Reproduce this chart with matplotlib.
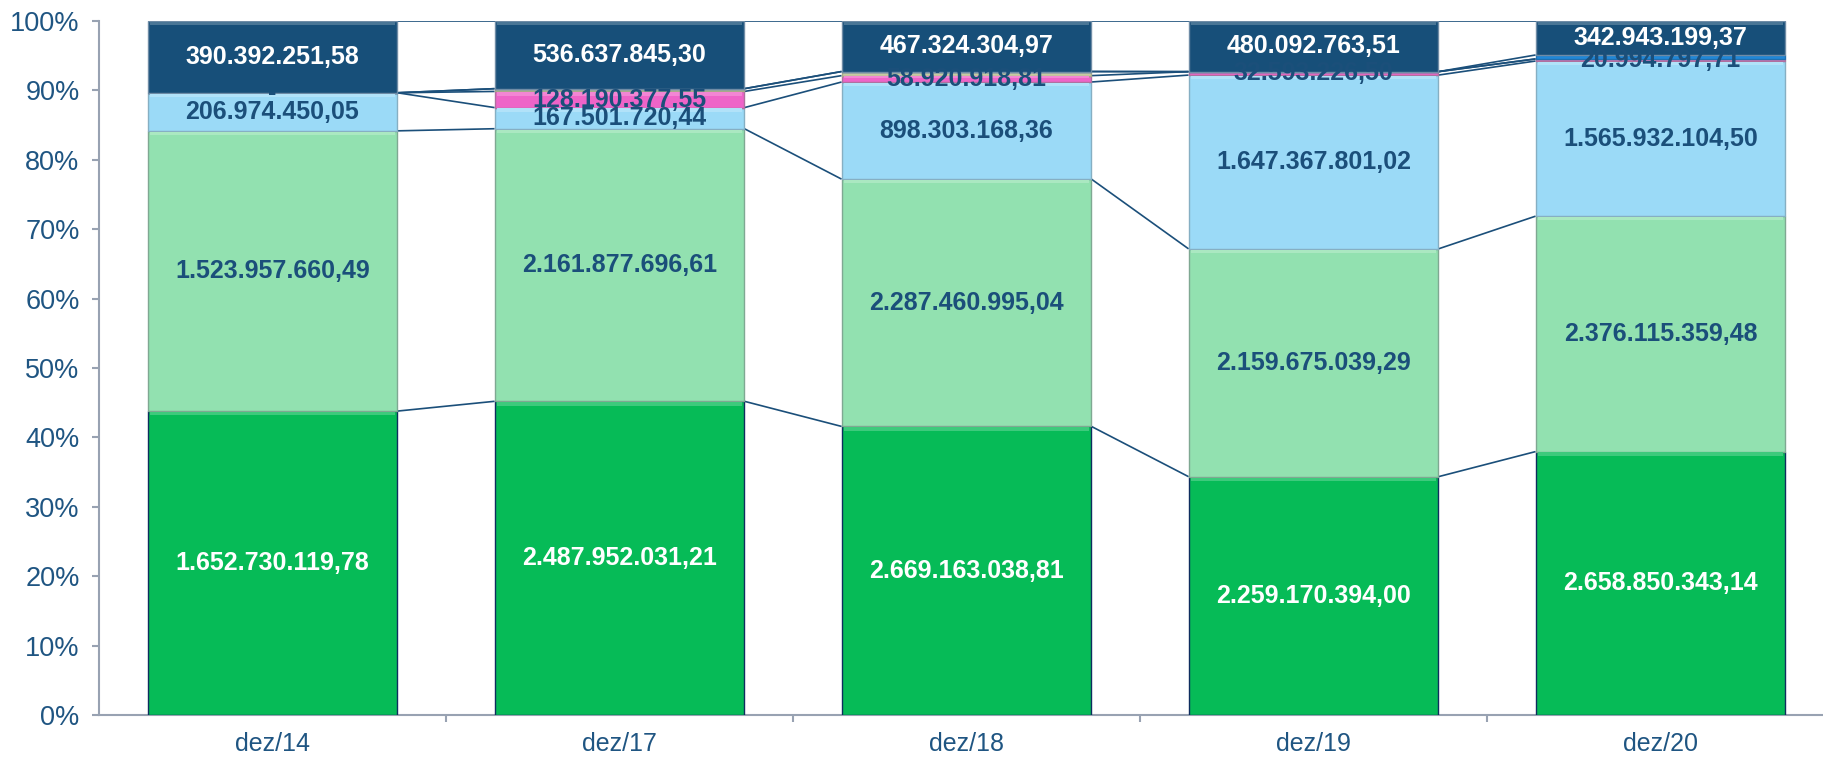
import matplotlib.pyplot as plt
import numpy as np
from matplotlib.colors import to_rgb

plt.rcParams['font.family'] = ['Liberation Sans', 'DejaVu Sans']

categories = ['dez/14', 'dez/17', 'dez/18', 'dez/19', 'dez/20']
serie_verde = [1652730119.78, 2487952031.21, 2669163038.81, 2259170394.00, 2658850343.14]
serie_verde_claro = [1523957660.49, 2161877696.61, 2287460995.04, 2159675039.29, 2376115359.48]
serie_azul_claro = [206974450.05, 167501720.44, 898303168.36, 1647367801.02, 1565932104.50]
serie_rosa = [0.0, 128190377.55, 58920918.81, 32593226.50, 20994797.71]
serie_caqui = [0.0, 22000000.0, 38000000.0, 0.0, 0.0]          # unlabeled thin band (estimated)
serie_azul_medio = [0.0, 0.0, 0.0, 0.0, 40000000.0]            # unlabeled thin band (estimated)
serie_marinho = [390392251.58, 536637845.30, 467324304.97, 480092763.51, 342943199.37]

series = [
    (serie_verde, '#06BB57', '#0E2D5E', 'white', True),
    (serie_verde_claro, '#92E1B0', '#7FA892', '#1B4F7A', True),
    (serie_azul_claro, '#9BDAF7', '#86AFC3', '#1B4F7A', True),
    (serie_rosa, '#EE64C8', '#B0709F', '#1B4F7A', True),
    (serie_caqui, '#C8C9A2', '#A8A98A', '#1B4F7A', False),
    (serie_azul_medio, '#2088D8', '#2070B0', '#1B4F7A', False),
    (serie_marinho, '#174F79', '#6F8CA6', 'white', True),
]


def fmt_br(v):
    if v == 0:
        return '-'
    s = f"{v:,.2f}"
    return s.replace(',', 'X').replace('.', ',').replace('X', '.')


def lighten(c, f):
    r, g, b = to_rgb(c)
    return (r + (1 - r) * f, g + (1 - g) * f, b + (1 - b) * f)


W, H = 1823, 758
fig = plt.figure(figsize=(W / 100, H / 100), dpi=100)
left_px, right_px = 99, W
bottom_px, top_px = 715, 21
ax = fig.add_axes([left_px / W, (H - bottom_px) / H, (right_px - left_px) / W, (bottom_px - top_px) / H])

cat_w = 347.0
px_per_pct = (bottom_px - top_px) / 100.0
n = len(categories)
x = np.arange(n)
bar_w = 0.72

totals = np.zeros(n)
for s in series:
    totals += np.array(s[0])

bottom = np.zeros(n)
tops = []
for vals, fc, ec, tc, show in series:
    pct = np.array(vals) / totals * 100
    ax.bar(x, pct, bar_w, bottom=bottom, color=fc, edgecolor=ec, linewidth=1.0, zorder=3)
    # subtle bevel highlight along the top of each segment
    for i in range(n):
        seg_px = pct[i] * px_per_pct
        if seg_px > 6:
            hh = min(3.5, seg_px * 0.2) / px_per_pct
            ax.bar(x[i], hh, bar_w * 0.98, bottom=bottom[i] + pct[i] - hh - 0.12,
                   color=lighten(fc, 0.22), linewidth=0, zorder=3.5)
    if show:
        for i in range(n):
            ax.text(x[i], bottom[i] + pct[i] / 2, fmt_br(vals[i]), ha='center', va='center',
                    fontsize=18, fontweight='bold', color=tc, zorder=5)
    bottom = bottom + pct
    tops.append(bottom.copy())

# series lines connecting stacked boundaries
for cum in tops:
    for i in range(n - 1):
        ax.plot([x[i] + bar_w / 2, x[i + 1] - bar_w / 2], [cum[i], cum[i + 1]],
                color='#1B4F7A', linewidth=1.2, zorder=2, solid_capstyle='butt')

ax.set_xlim(-0.5, -0.5 + (right_px - left_px) / cat_w)
ax.set_ylim(0, 100)

ax.set_yticks(np.arange(0, 101, 10))
ax.set_yticklabels([f"{v}%" for v in range(0, 101, 10)])
ax.set_xticks(x)
ax.set_xticklabels(categories)
ax.set_xticks(np.arange(n - 1) + 0.5, minor=True)

axis_col = '#98A2B2'
label_col = '#1F5582'
for sp in ['top', 'right']:
    ax.spines[sp].set_visible(False)
ax.spines['left'].set_color(axis_col)
ax.spines['bottom'].set_color(axis_col)
ax.spines['left'].set_linewidth(1.5)
ax.spines['bottom'].set_linewidth(1.5)
ax.spines['left'].set_zorder(1)

ax.tick_params(axis='y', direction='out', length=5, width=1.5, color=axis_col,
               labelcolor=label_col, labelsize=19.5, pad=9)
ax.tick_params(axis='x', which='major', length=0, labelcolor=label_col, labelsize=18, pad=12)
ax.tick_params(axis='x', which='minor', direction='out', length=5, width=1.5, color=axis_col)

fig.savefig('out.png', dpi=100)
